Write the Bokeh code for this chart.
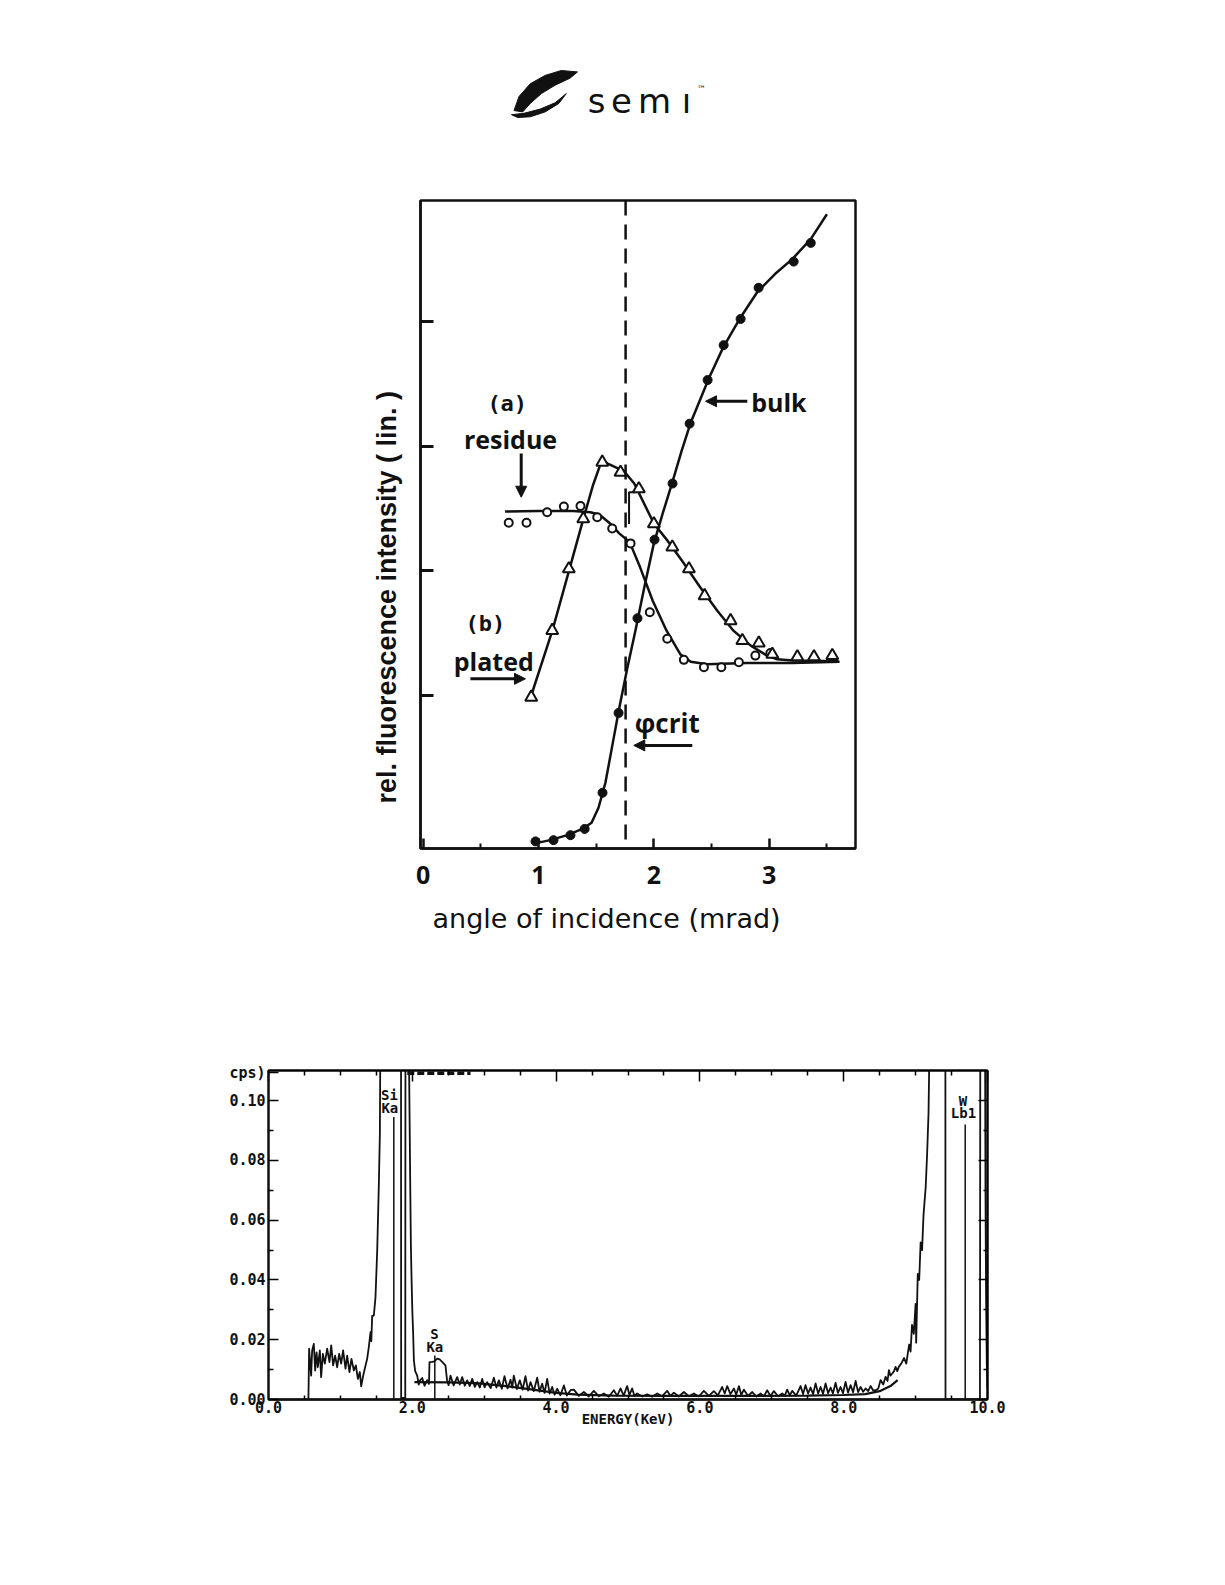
import math
from bokeh.plotting import figure
from bokeh.models import (Range1d, FixedTicker, LinearAxis, Label, Arrow, NormalHead,
                          Span, Spacer, NumeralTickFormatter, Title)
from bokeh.layouts import column, row
from bokeh.embed import file_html
from bokeh.resources import INLINE
from bokeh.core.properties import value

# ---------------- data: angle scan (top chart) ----------------
bulk_angle = [0.974, 1.13, 1.277, 1.40, 1.555, 1.694, 1.858, 2.006, 2.162, 2.310,
              2.466, 2.605, 2.752, 2.908, 3.212, 3.36]
bulk_int = [-0.17, -0.16, -0.12, -0.07, 0.22, 0.86, 1.62, 2.25, 2.70, 3.18,
            3.53, 3.81, 4.02, 4.27, 4.48, 4.63]
bulk_fit_angle = [0.95, 1.10, 1.25, 1.38, 1.46, 1.52, 1.58, 1.64, 1.70, 1.77, 1.84, 1.92,
                  2.00, 2.08, 2.16, 2.24, 2.32, 2.40, 2.48, 2.60, 2.75, 2.90, 3.05, 3.20,
                  3.36, 3.50]
bulk_fit_int = [-0.19, -0.16, -0.12, -0.07, -0.02, 0.10, 0.30, 0.60, 0.90, 1.22, 1.52, 1.88,
                2.22, 2.47, 2.71, 2.96, 3.19, 3.37, 3.55, 3.79, 4.03, 4.24, 4.38, 4.50,
                4.66, 4.86]

residue_angle = [0.742, 0.896, 1.075, 1.22, 1.364, 1.509, 1.639, 1.798, 1.965, 2.116,
                 2.26, 2.434, 2.585, 2.737, 2.88, 3.01]
residue_int = [2.385, 2.385, 2.47, 2.515, 2.52, 2.43, 2.34, 2.22, 1.668, 1.455,
               1.286, 1.227, 1.227, 1.267, 1.32, 1.34]
residue_fit_angle = [0.71, 1.0, 1.30, 1.45, 1.53, 1.62, 1.70, 1.79, 1.88, 1.99, 2.11,
                     2.23, 2.32, 2.46, 2.80, 3.20, 3.61]
residue_fit_int = [2.476, 2.48, 2.48, 2.47, 2.45, 2.38, 2.30, 2.23, 2.03, 1.76, 1.52,
                   1.33, 1.27, 1.25, 1.26, 1.26, 1.27]

plated_angle = [0.937, 1.119, 1.263, 1.388, 1.553, 1.711, 1.870, 2.0, 2.16, 2.304,
                2.44, 2.665, 2.767, 2.91, 3.027, 3.244, 3.388, 3.547]
plated_int = [0.986, 1.521, 2.016, 2.417, 2.871, 2.79, 2.657, 2.377, 2.19, 2.016,
              1.80, 1.60, 1.44, 1.42, 1.33, 1.31, 1.31, 1.32]
plated_fit_angle = [0.93, 1.12, 1.27, 1.39, 1.47, 1.55, 1.60, 1.74, 1.83, 2.00, 2.12,
                    2.26, 2.40, 2.55, 2.69, 2.84, 2.98, 3.07, 3.20, 3.60]
plated_fit_int = [0.98, 1.52, 2.02, 2.42, 2.68, 2.89, 2.86, 2.80, 2.70, 2.38, 2.24,
                  2.06, 1.87, 1.68, 1.52, 1.40, 1.32, 1.29, 1.28, 1.275]
plated_step_angle = [1.843, 1.785, 1.785]
plated_step_int = [2.63, 2.63, 2.375]

crit_angle = 1.755
top_x_ticks = [0, 1, 2, 3]
top_x_minor = [0.5, 1.5, 2.5, 3.5]
top_y_ticks = [1, 2, 3, 4]

# ---------------- data: TXRF spectrum (bottom chart) ----------------
spec_kev = [0.555, 0.565, 0.593, 0.607, 0.630, 0.649, 0.668, 0.686, 0.714, 0.732, 0.756, 0.783,
            0.816, 0.848, 0.872, 0.899, 0.927, 0.955, 0.983, 1.010, 1.038, 1.071, 1.094, 1.126,
            1.154, 1.187, 1.215, 1.243, 1.270, 1.289, 1.317, 1.344, 1.372, 1.395, 1.419, 1.430,
            1.442, 1.465, 1.488, 1.512, 1.535, 1.549, 1.558, 1.843, 1.845, 1.902, 1.905, 1.955,
            1.962, 1.970, 1.980, 1.990, 2.000, 2.012, 2.022, 2.040, 2.068, 2.090, 2.105, 2.138,
            2.170, 2.207, 2.232, 2.239, 2.276, 2.310, 2.345, 2.380, 2.415, 2.461, 2.484, 2.505,
            2.531, 2.575, 2.624, 2.660, 2.694, 2.730, 2.763, 2.800, 2.833, 2.870, 2.902, 2.940,
            2.972, 3.005, 3.041, 3.090, 3.134, 3.170, 3.204, 3.245, 3.282, 3.325, 3.366, 3.390,
            3.412, 3.455, 3.495, 3.535, 3.574, 3.610, 3.644, 3.690, 3.737, 3.770, 3.806, 3.840,
            3.876, 3.910, 3.945, 3.980, 4.015, 4.060, 4.108, 4.150, 4.200, 4.247, 4.315, 4.386,
            4.455, 4.524, 4.594, 4.664, 4.733, 4.803, 4.850, 4.896, 4.940, 4.988, 5.020, 5.058,
            5.090, 5.127, 5.200, 5.266, 5.336, 5.406, 5.476, 5.545, 5.590, 5.638, 5.707, 5.777,
            5.846, 5.916, 5.985, 6.055, 6.125, 6.194, 6.250, 6.310, 6.345, 6.380, 6.425, 6.473,
            6.505, 6.543, 6.575, 6.612, 6.670, 6.728, 6.786, 6.844, 6.890, 6.936, 6.980, 7.029,
            7.087, 7.145, 7.180, 7.214, 7.250, 7.284, 7.340, 7.400, 7.435, 7.469, 7.505, 7.539,
            7.575, 7.609, 7.645, 7.678, 7.713, 7.748, 7.783, 7.818, 7.850, 7.887, 7.920, 7.957,
            7.990, 8.026, 8.060, 8.096, 8.130, 8.166, 8.200, 8.235, 8.270, 8.305, 8.340, 8.374,
            8.410, 8.444, 8.480, 8.513, 8.550, 8.583, 8.610, 8.629, 8.650, 8.676, 8.700, 8.722,
            8.745, 8.768, 8.800, 8.840, 8.870, 8.910, 8.930, 8.950, 8.975, 9.000, 9.008, 9.030,
            9.050, 9.070, 9.090, 9.110, 9.140, 9.160, 9.180, 9.200, 9.414, 9.416, 9.895, 9.900,
            9.965, 9.972, 9.980, 9.990, 10.000]
spec_cps = [0.0, 0.0170, 0.0080, 0.0164, 0.0186, 0.0097, 0.0158, 0.0108, 0.0164, 0.0075, 0.0153, 0.0120,
            0.0170, 0.0125, 0.0181, 0.0114, 0.0147, 0.0108, 0.0153, 0.0120, 0.0164, 0.0103, 0.0147, 0.0092,
            0.0136, 0.0097, 0.0114, 0.0069, 0.0092, 0.0044, 0.0080, 0.0108, 0.0136, 0.0175, 0.0225, 0.0195,
            0.0280, 0.0281, 0.0342, 0.0499, 0.0723, 0.0890, 0.1300, 0.1300, 0.0005, 0.0005, 0.1300, 0.1120,
            0.0950, 0.0750, 0.0520, 0.0400, 0.0300, 0.0220, 0.0131, 0.0095, 0.0080, 0.0050, 0.0063, 0.0072,
            0.0046, 0.0065, 0.0052, 0.0125, 0.0126, 0.0128, 0.0137, 0.0134, 0.0126, 0.0114, 0.0063, 0.0048,
            0.0080, 0.0047, 0.0075, 0.0050, 0.0075, 0.0046, 0.0064, 0.0045, 0.0069, 0.0042, 0.0058, 0.0040,
            0.0069, 0.0041, 0.0058, 0.0038, 0.0073, 0.0040, 0.0064, 0.0036, 0.0078, 0.0037, 0.0066, 0.0040,
            0.0080, 0.0035, 0.0064, 0.0033, 0.0078, 0.0030, 0.0058, 0.0028, 0.0073, 0.0026, 0.0053, 0.0022,
            0.0069, 0.0020, 0.0042, 0.0016, 0.0036, 0.0014, 0.0047, 0.0013, 0.0031, 0.0033, 0.0012, 0.0025,
            0.0010, 0.0029, 0.0011, 0.0020, 0.0009, 0.0031, 0.0012, 0.0037, 0.0013, 0.0045, 0.0015, 0.0037,
            0.0012, 0.0020, 0.0010, 0.0017, 0.0009, 0.0020, 0.0011, 0.0029, 0.0012, 0.0023, 0.0010, 0.0025,
            0.0011, 0.0020, 0.0010, 0.0029, 0.0012, 0.0028, 0.0014, 0.0042, 0.0020, 0.0045, 0.0018, 0.0037,
            0.0016, 0.0045, 0.0015, 0.0033, 0.0012, 0.0025, 0.0010, 0.0020, 0.0011, 0.0031, 0.0012, 0.0028,
            0.0011, 0.0020, 0.0012, 0.0033, 0.0014, 0.0029, 0.0013, 0.0045, 0.0018, 0.0048, 0.0020, 0.0040,
            0.0018, 0.0054, 0.0020, 0.0042, 0.0019, 0.0054, 0.0021, 0.0040, 0.0020, 0.0056, 0.0022, 0.0042,
            0.0021, 0.0059, 0.0023, 0.0048, 0.0024, 0.0062, 0.0025, 0.0042, 0.0026, 0.0037, 0.0028, 0.0045,
            0.0030, 0.0031, 0.0036, 0.0065, 0.0050, 0.0076, 0.0062, 0.0098, 0.0080, 0.0087, 0.0095, 0.0109,
            0.0095, 0.0110, 0.0120, 0.0139, 0.0120, 0.0184, 0.0160, 0.0250, 0.0220, 0.0320, 0.0190, 0.0420,
            0.0400, 0.0526, 0.0500, 0.0617, 0.0710, 0.0820, 0.0960, 0.1300, 0.1300, 0.0000, 0.0000, 0.1300,
            0.1300, 0.0700, 0.0350, 0.0120, 0.0040]
bg_kev = [2.03, 2.5, 2.9, 3.3, 3.7, 4.0, 4.3, 4.8, 5.5, 6.5, 7.5, 8.0, 8.3, 8.5, 8.65, 8.75]
bg_cps = [0.0058, 0.0057, 0.0055, 0.0045, 0.0032, 0.0022, 0.0016, 0.0013, 0.0012, 0.0012,
          0.0013, 0.0015, 0.0018, 0.0028, 0.0045, 0.0065]
clip_kev = [1.93, 2.81]
clip_cps = [0.1092, 0.1092]
line_kev = [1.743, 2.313, 9.69]
line_top = [0.0945, 0.0147, 0.092]
line_base = [0.0, 0.0, 0.0]
line_names = [("Si", "Ka"), ("S", "Ka"), ("W", "Lb1")]
line_label_kev = [1.683, 2.308, 9.66]
line_label_cps = [0.1018, 0.0218, 0.1000]
bot_x_ticks = [0, 2, 4, 6, 8, 10]
bot_x_minor = [0.5, 1.0, 1.5, 2.5, 3.0, 3.5, 4.5, 5.0, 5.5, 6.5, 7.0, 7.5, 8.5, 9.0, 9.5]
bot_y_ticks = [0.0, 0.02, 0.04, 0.06, 0.08, 0.10]
bot_y_minor = [0.01, 0.03, 0.05, 0.07, 0.09]
cps_tick = 0.1093

# ---------------- logo (page pixel coordinates) ----------------
swoosh_top_x = [513.5, 518.5, 529.7, 544.6, 560.8, 577.0, 569.5, 554.6, 540.9, 529.7, 522.2]
swoosh_top_y = [110.0, 96.0, 83.3, 74.9, 70.0, 71.4, 77.7, 84.7, 93.1, 103.0, 111.4]
swoosh_low_x = [511.0, 523.5, 539.6, 554.6, 565.8, 558.3, 544.6, 529.7, 517.2]
swoosh_low_y = [114.2, 112.8, 108.6, 102.3, 93.1, 103.0, 111.4, 116.3, 117.0]
logo_letters = ["s", "e", "m", "ı"]
logo_letter_x = [596, 621, 654, 686]

BLACK = "#111111"
SANS = "Open Sans"
MONO = "DejaVu Sans Mono"

# ---------------- logo figure ----------------
pl = figure(width=1209, height=150, x_range=Range1d(8, 1217), y_range=Range1d(158, 8),
            output_backend="svg", toolbar_location=None, min_border=0,
            x_axis_location=None, y_axis_location=None)
pl.title.visible = False
pl.outline_line_color = None
pl.grid.visible = False
pl.patch(swoosh_top_x, swoosh_top_y, fill_color=BLACK, line_color=BLACK, line_width=1)
pl.patch(swoosh_low_x, swoosh_low_y, fill_color=BLACK, line_color=BLACK, line_width=1)
pl.text(x=logo_letter_x, y=[100] * 4, text=logo_letters, text_font=value("DejaVu Sans"),
        text_font_size=value("34px"), text_align="center", text_baseline="alphabetic",
        text_color=BLACK)
pl.text(x=[701], y=[88], text=["™"], text_font=value("DejaVu Sans"),
        text_font_size=value("9px"), text_align="center", text_baseline="middle",
        text_color=BLACK)

# ---------------- top chart ----------------
p1 = figure(width=535, height=802, x_range=Range1d(-0.023, 3.748), y_range=Range1d(-0.227, 4.97),
            output_backend="svg", toolbar_location=None,
            min_border_left=90, min_border_right=10, min_border_top=42, min_border_bottom=112)
p1.title.visible = False
p1.grid.visible = False
p1.outline_line_color = BLACK
p1.outline_line_width = 2.5

xa = p1.xaxis[0]
xa.ticker = FixedTicker(ticks=top_x_ticks, minor_ticks=top_x_minor)
xa.major_tick_in = 10
xa.major_tick_out = 0
xa.minor_tick_in = 5
xa.minor_tick_out = 0
xa.major_tick_line_width = 2.5
xa.minor_tick_line_width = 2
xa.major_tick_line_color = BLACK
xa.minor_tick_line_color = BLACK
xa.axis_line_width = 2.5
xa.axis_line_color = BLACK
xa.major_label_text_font = SANS
xa.major_label_text_font_style = "bold"
xa.major_label_text_font_size = "25px"
xa.major_label_text_color = BLACK
xa.major_label_standoff = 17

ya = p1.yaxis[0]
ya.ticker = FixedTicker(ticks=top_y_ticks, minor_ticks=[])
ya.major_tick_in = 13
ya.major_tick_out = 0
ya.major_tick_line_width = 3
ya.major_tick_line_color = BLACK
ya.minor_tick_line_color = None
ya.axis_line_width = 2.5
ya.axis_line_color = BLACK
ya.major_label_standoff = 0
ya.major_label_overrides = {t: "" for t in top_y_ticks}

p1.add_layout(Title(text="rel. fluorescence intensity ( lin. )", align="left", offset=45,
                    text_font="Liberation Sans", text_font_style="bold", text_font_size="27px",
                    text_color=BLACK, standoff=37), "left")
p1.add_layout(Title(text="angle of incidence (mrad)", align="left", offset=12,
                    text_font="DejaVu Sans", text_font_style="normal", text_font_size="27px",
                    text_color=BLACK, standoff=29), "below")

p1.add_layout(Span(location=crit_angle, dimension="height", line_color=BLACK,
                   line_width=2.5, line_dash="15 9"))

p1.line(bulk_fit_angle, bulk_fit_int, line_color=BLACK, line_width=2.5, line_join="round")
p1.line(residue_fit_angle, residue_fit_int, line_color=BLACK, line_width=2.5, line_join="round")
p1.line(plated_fit_angle, plated_fit_int, line_color=BLACK, line_width=2.5, line_join="round")
p1.line(plated_step_angle, plated_step_int, line_color=BLACK, line_width=2)

p1.scatter(bulk_angle, bulk_int, marker="circle", size=9, fill_color=BLACK, line_color=BLACK)
p1.scatter(residue_angle, residue_int, marker="circle", size=8, fill_color="white",
           line_color=BLACK, line_width=2)
p1.scatter(plated_angle, plated_int, marker="triangle", size=12, fill_color="white",
           line_color=BLACK, line_width=2)

for txt, x, y, fnt, fs in [("(a)", 0.729, 3.34, MONO, "22px"),
                           ("residue", 0.757, 3.06, SANS, "25px"),
                           ("bulk", 3.084, 3.35, SANS, "25px"),
                           ("(b)", 0.54, 1.575, MONO, "22px"),
                           ("plated", 0.612, 1.28, SANS, "25px"),
                           ("φcrit", 2.116, 0.778, SANS, "26px")]:
    p1.add_layout(Label(x=x, y=y, text=txt, text_font=fnt, text_font_style="bold",
                        text_font_size=fs, text_align="center", text_baseline="middle",
                        text_color=BLACK))

for xs, ys, xe, ye in [(0.85, 2.94, 0.85, 2.59), (2.81, 3.36, 2.448, 3.36),
                       (0.41, 1.134, 0.887, 1.134), (2.333, 0.60, 1.826, 0.60)]:
    p1.add_layout(Arrow(end=NormalHead(size=11, fill_color=BLACK, line_color=BLACK, line_width=1),
                        x_start=xs, y_start=ys, x_end=xe, y_end=ye,
                        line_color=BLACK, line_width=3))

# ---------------- bottom chart ----------------
p2 = figure(width=849, height=499, x_range=Range1d(0, 10), y_range=Range1d(0, 0.1101),
            output_backend="svg", toolbar_location=None,
            min_border_left=110, min_border_right=20, min_border_top=110, min_border_bottom=60)
p2.title.visible = False
p2.grid.visible = False
p2.outline_line_color = BLACK
p2.outline_line_width = 2

bx = p2.xaxis[0]
bx.ticker = FixedTicker(ticks=bot_x_ticks, minor_ticks=bot_x_minor)
bx.formatter = NumeralTickFormatter(format="0.0")
bx.major_tick_in = 0
bx.major_tick_out = 0
bx.minor_tick_in = 4
bx.minor_tick_out = 0
bx.minor_tick_line_width = 1.5
bx.axis_line_width = 2.5
bx.axis_line_color = BLACK
bx.major_label_text_font = MONO
bx.major_label_text_font_style = "bold"
bx.major_label_text_font_size = "15px"
bx.major_label_text_color = BLACK
bx.major_label_standoff = 1
bx.axis_label = "ENERGY(KeV)"
bx.axis_label_text_font = MONO
bx.axis_label_text_font_style = "bold"
bx.axis_label_text_font_size = "14px"
bx.axis_label_text_color = BLACK
bx.axis_label_standoff = -5

by = p2.yaxis[0]
by.ticker = FixedTicker(ticks=bot_y_ticks + [cps_tick], minor_ticks=bot_y_minor)
by.formatter = NumeralTickFormatter(format="0.00")
by.major_label_overrides = {cps_tick: "cps)"}
by.major_tick_in = 10
by.major_tick_out = 0
by.minor_tick_in = 5
by.minor_tick_out = 0
by.major_tick_line_width = 1.5
by.minor_tick_line_width = 1.5
by.axis_line_width = 2
by.axis_line_color = BLACK
by.major_label_text_font = MONO
by.major_label_text_font_style = "bold"
by.major_label_text_font_size = "15px"
by.major_label_text_color = BLACK
by.major_label_standoff = 3

top_axis = LinearAxis(ticker=FixedTicker(ticks=bot_x_ticks, minor_ticks=bot_x_minor),
                      major_tick_in=11, major_tick_out=0, minor_tick_in=5, minor_tick_out=0,
                      major_tick_line_width=1.5, minor_tick_line_width=1.5,
                      axis_line_width=2, major_label_overrides={t: "" for t in bot_x_ticks})
p2.add_layout(top_axis, "above")
right_axis = LinearAxis(ticker=FixedTicker(ticks=bot_y_ticks, minor_ticks=bot_y_minor),
                        major_tick_in=9, major_tick_out=0, minor_tick_in=4, minor_tick_out=0,
                        major_tick_line_width=1.5, minor_tick_line_width=1.5,
                        axis_line_width=2, major_label_overrides={t: "" for t in bot_y_ticks})
p2.add_layout(right_axis, "right")

p2.line(bg_kev, bg_cps, line_color=BLACK, line_width=2.2)
p2.line(spec_kev, spec_cps, line_color=BLACK, line_width=1.8, line_join="round")
p2.line(clip_kev, clip_cps, line_color=BLACK, line_width=3.5, line_dash="7 3")
p2.segment(x0=line_kev, y0=line_base, x1=line_kev, y1=line_top, line_color=BLACK, line_width=1.5)

for (el, ln), x, yt in zip(line_names, line_label_kev, line_label_cps):
    p2.add_layout(Label(x=x, y=yt, text=el, text_font=MONO, text_font_style="bold",
                        text_font_size="14px", text_align="center", text_baseline="middle",
                        text_color=BLACK))
    p2.add_layout(Label(x=x + 0.005, y=yt - 0.0042, text=ln, text_font=MONO, text_font_style="bold",
                        text_font_size="14px", text_align="center", text_baseline="middle",
                        text_color=BLACK))

inner = column(
    pl,
    row(Spacer(width=322, height=802), p1),
    row(Spacer(width=150, height=499), p2),
)
layout = column(Spacer(width=1217, height=8), row(Spacer(width=8, height=1451), inner))

open("out.html", "w").write(file_html(layout, INLINE))
